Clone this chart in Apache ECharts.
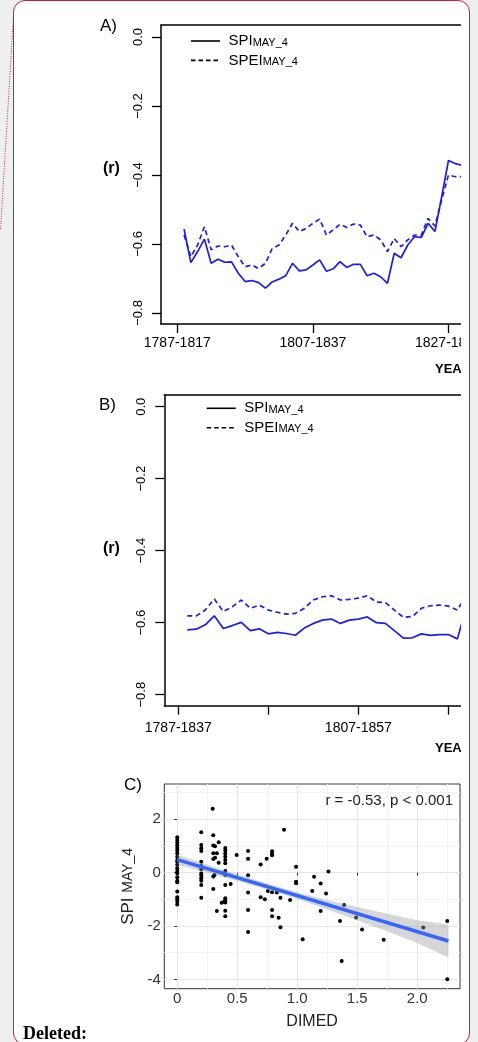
<!DOCTYPE html>
<html><head><meta charset="utf-8">
<script src="https://cdn.jsdelivr.net/npm/echarts@6/dist/echarts.min.js"></script>
<style>
html,body{margin:0;padding:0;background:#efefef;width:478px;height:1042px;overflow:hidden;}
#card{position:absolute;left:13px;top:0;width:457px;height:1045px;box-sizing:border-box;border:1.5px solid #c81d3f;border-radius:12px;background:#fff;}
#chart{position:absolute;left:0;top:0;width:461px;height:1042px;}
</style></head><body>
<div id="card"></div><div id="chart"></div>
<script>
// ---------- Panel A: 30-year moving windows (start year) ----------
const yearsA = [1788,1789,1790,1791,1792,1793,1794,1795,1796,1797,1798,1799,1800,1801,1802,1803,1804,1805,1806,1807,1808,1809,1810,1811,1812,1813,1814,1815,1816,1817,1818,1819,1820,1821,1822,1823,1824,1825,1826,1827,1828,1829];
const spiA = [-0.557,-0.654,-0.622,-0.586,-0.656,-0.644,-0.653,-0.652,-0.685,-0.709,-0.706,-0.712,-0.728,-0.710,-0.702,-0.692,-0.656,-0.678,-0.675,-0.661,-0.646,-0.679,-0.672,-0.651,-0.668,-0.659,-0.659,-0.692,-0.685,-0.695,-0.714,-0.627,-0.640,-0.603,-0.579,-0.581,-0.540,-0.564,-0.463,-0.358,-0.367,-0.372];
const speiA = [-0.574,-0.637,-0.603,-0.550,-0.617,-0.606,-0.608,-0.603,-0.637,-0.666,-0.661,-0.671,-0.656,-0.613,-0.603,-0.574,-0.540,-0.564,-0.555,-0.540,-0.528,-0.574,-0.559,-0.543,-0.552,-0.542,-0.545,-0.579,-0.574,-0.588,-0.622,-0.584,-0.608,-0.588,-0.574,-0.574,-0.526,-0.548,-0.472,-0.400,-0.405,-0.405];
const tickYearsA = [1787,1807,1827];
const windowA = 30;

// ---------- Panel B: 50-year moving windows ----------
const yearsB = [1788,1789,1790,1791,1792,1793,1794,1795,1796,1797,1798,1799,1800,1801,1802,1803,1804,1805,1806,1807,1808,1809,1810,1811,1812,1813,1814,1815,1816,1817,1818,1819];
const spiB = [-0.620,-0.618,-0.606,-0.581,-0.616,-0.608,-0.599,-0.622,-0.617,-0.631,-0.627,-0.630,-0.635,-0.615,-0.602,-0.593,-0.590,-0.602,-0.593,-0.590,-0.584,-0.600,-0.602,-0.622,-0.643,-0.642,-0.631,-0.635,-0.633,-0.633,-0.645,-0.555];
const speiB = [-0.581,-0.581,-0.565,-0.534,-0.569,-0.556,-0.537,-0.560,-0.551,-0.565,-0.571,-0.576,-0.574,-0.560,-0.537,-0.528,-0.525,-0.537,-0.535,-0.532,-0.525,-0.543,-0.544,-0.565,-0.585,-0.583,-0.560,-0.553,-0.551,-0.554,-0.565,-0.523];
const tickYearsB = [1787,1797,1807,1817];
const labelYearsB = [1787,1807];
const windowB = 50;
const rTicks = [0,-0.2,-0.4,-0.6,-0.8];
const legendNames = ['SPI','SPEI'];

// ---------- Panel C: scatter SPI_MAY_4 vs DIMED ----------
const dimed = [
 0,0,0,0,0,0,0,0,0,0,0,0,0,0,0,0,0,0,0,0,0,0,
 0.2,0.2,0.2,0.2,0.2,0.2,0.2,0.2,0.2,0.2,0.2,0.2,0.2,
 0.295,0.3,0.3,0.315,0.345,0.3,0.33,0.3,0.315,0.345,0.3,0.31,0.3,0.37,0.33,0.39,
 0.4,0.4,0.4,0.4,0.4,0.4,0.4,0.4,0.4,0.4,0.4,0.4,0.4,0.4,
 0.445,0.495,0.59,0.59,0.59,0.59,0.59,0.59,0.695,0.695,0.73,0.745,0.755,
 0.79,0.79,0.79,0.79,0.79,0.79,0.83,0.845,0.86,0.86,0.89,0.94,
 0.99,0.99,0.99,1.045,1.125,1.14,1.195,1.195,1.24,1.26,1.356,1.37,1.39,1.49,1.54,1.72,2.05,2.25,2.25];
const spi = [
 1.33,1.23,1.13,1.03,0.93,0.83,0.73,0.60,0.48,0.41,0.30,0.17,0.06,-0.03,-0.17,-0.30,-0.36,-0.71,-0.92,-1.00,-1.09,-1.19,
 1.52,1.04,0.92,0.81,0.41,0.25,0.13,-0.03,-0.11,-0.21,-0.30,-0.46,-0.94,
 2.40,1.40,1.02,0.99,1.14,0.73,0.73,0.51,0.56,0.37,-0.14,-0.09,-0.61,-1.13,-1.44,-1.09,
 0.93,0.83,0.72,0.60,0.48,0.35,0.06,-0.09,-0.46,-0.96,-1.04,-1.12,-1.43,-1.63,
 -0.42,0.66,0.81,0.52,-0.10,-0.74,-1.40,-2.22,0.31,-0.92,-1.00,0.52,-0.69,
 0.80,0.71,0.65,-0.73,-1.40,-1.63,-0.74,-1.69,-2.05,-0.94,1.61,-1.02,
 0.22,-0.34,-0.40,-2.50,-0.69,-0.15,-0.41,-1.44,-0.78,0.04,-1.81,-3.31,-1.21,-1.68,-2.13,-2.51,-2.06,-1.81,-4.00];
const fitX = [0, 2.26];
const fitY = [0.49, -2.56];
const bandX = [0,0.25,0.5,0.75,1.0,1.25,1.5,1.75,2.0,2.26];
const bandHigh = [0.68,0.30,-0.06,-0.41,-0.73,-1.02,-1.29,-1.54,-1.78,-1.94];
const bandLow = [0.30,0.00,-0.31,-0.63,-0.99,-1.38,-1.78,-2.20,-2.64,-3.18];
const xTicksC = [0,0.5,1,1.5,2];
const xMinorC = [0.25,0.75,1.25,1.75,2.25];
const yTicksC = [2,0,-2,-4];
const yMinorC = [3,1,-1,-3];

const FONT = '"Liberation Sans", Arial, Helvetica, sans-serif';
const BLUE = '#1d1de8';
const rFmt = v => Math.abs(v) < 1e-9 ? '0.0' : '\u2212' + Math.abs(v).toFixed(1);

const chart = echarts.init(document.getElementById('chart'));

function rAxisX(grid, min, max, ticks, labels, win, margin) {
  return {type:'value', gridIndex:grid, min, max, position:'bottom',
    axisLine:{show:true, onZero:false, lineStyle:{color:'#000', width:1.5}},
    axisTick:{show:true, customValues:ticks, length:9, lineStyle:{color:'#000', width:1.3}},
    axisLabel:{customValues:labels, formatter:v => v + '-' + (v + win), margin, color:'#000', fontSize:14, fontFamily:FONT},
    splitLine:{show:false}};
}
function rAxisTop(grid, min, max) {
  return {type:'value', gridIndex:grid, min, max, position:'top',
    axisLine:{show:true, onZero:false, lineStyle:{color:'#000', width:1.5}},
    axisTick:{show:false}, axisLabel:{show:false}, splitLine:{show:false}};
}
function rAxisY(grid, min, max) {
  return {type:'value', gridIndex:grid, min, max, position:'left',
    axisLine:{show:true, onZero:false, lineStyle:{color:'#000', width:1.5}},
    axisTick:{show:true, customValues:rTicks, length:9, lineStyle:{color:'#000', width:1.3}},
    axisLabel:{customValues:rTicks, rotate:90, formatter:rFmt, margin:16, color:'#000', fontSize:13, fontFamily:FONT},
    splitLine:{show:false}};
}
function lineSeries(name, xi, yi, xs, ys, dashed) {
  return {type:'line', name, xAxisIndex:xi, yAxisIndex:yi, symbol:'none', clip:true, animation:false,
    data: xs.map((x,i) => [x, ys[i]]),
    lineStyle:{color:BLUE, width:1.7, type: dashed ? [5,3.5] : 'solid'}, itemStyle:{color:BLUE}};
}
const txt = (text, x, y, font, extra) => ({type:'text', x, y, silent:true, z:50,
  style:Object.assign({text, font, fill:'#000', align:'left', verticalAlign:'middle'}, extra || {})});
const richLegend = {a:{fontSize:15, fontFamily:FONT, fill:'#000'}, b:{fontSize:11, fontFamily:FONT, fill:'#000', padding:[3,0,0,0]}};
function legendGraphics(x, y) {
  return legendNames.map((n, i) => [
    {type:'line', silent:true, z:50, shape:{x1:x, y1:y + i*19.4, x2:x + 29, y2:y + i*19.4},
      style:{stroke:'#000', lineWidth:1.6, lineDash: i ? [4.5,3] : null}},
    {type:'text', silent:true, z:50, x:x + 37.5, y:y + i*19.4,
      style:{text:'{a|' + n + '}{b|MAY_4}', rich:richLegend, verticalAlign:'middle', align:'left'}}
  ]).flat();
}

const option = {
  animation:false,
  grid:[
    {left:161, top:25, width:300, height:299, outerBoundsMode:'none', containLabel:false},
    {left:164.3, top:395, width:296.7, height:310.7, outerBoundsMode:'none', containLabel:false},
    {left:164.3, top:784, width:295.7, height:204.7, outerBoundsMode:'none', containLabel:false, show:true, borderColor:'#333', borderWidth:1, backgroundColor:'#fff'}
  ],
  xAxis:[
    rAxisX(0, 1784.6, 1828.85, tickYearsA, tickYearsA, windowA, 12),
    rAxisTop(0, 1784.6, 1828.85),
    rAxisX(1, 1785.45, 1818.4, tickYearsB, labelYearsB, windowB, 15),
    rAxisTop(1, 1785.45, 1818.4),
    {type:'value', gridIndex:2, min:-0.108, max:2.356, position:'bottom',
      axisLine:{show:false},
      axisTick:{show:true, customValues:xTicksC, length:3, lineStyle:{color:'#333', width:1}},
      axisLabel:{customValues:xTicksC, formatter:v => v === 0 ? '0' : v.toFixed(1), margin:3, color:'#333', fontSize:15, fontFamily:FONT},
      splitLine:{show:true, lineStyle:{color:'#e6e6e6', width:1}},
      name:'DIMED', nameLocation:'middle', nameGap:25, nameTextStyle:{color:'#222', fontSize:16, fontFamily:FONT}},
    {type:'value', gridIndex:2, min:-0.108, max:2.356, position:'bottom',
      axisLine:{show:false}, axisTick:{show:false, customValues:xMinorC}, axisLabel:{show:false, customValues:xMinorC},
      splitLine:{show:true, lineStyle:{color:'#f3f3f3', width:1}}}
  ],
  yAxis:[
    rAxisY(0, -0.832, 0.0348),
    rAxisY(1, -0.8306, 0.0325),
    {type:'value', gridIndex:2, min:-4.35, max:3.325, position:'left',
      axisLine:{show:false},
      axisTick:{show:true, customValues:yTicksC, length:3, lineStyle:{color:'#333', width:1}},
      axisLabel:{customValues:yTicksC, margin:3.5, color:'#333', fontSize:15, fontFamily:FONT},
      splitLine:{show:true, lineStyle:{color:'#e6e6e6', width:1}},
      name:'{a|SPI }{b|MAY_4}', nameLocation:'middle', nameRotate:90, nameGap:12,
      nameTextStyle:{color:'#222', fontFamily:FONT, rich:{a:{fontSize:17, fontFamily:FONT, lineHeight:18}, b:{fontSize:14, fontFamily:FONT, lineHeight:18}}}},
    {type:'value', gridIndex:2, min:-4.35, max:3.325, position:'left',
      axisLine:{show:false}, axisTick:{show:false, customValues:yMinorC}, axisLabel:{show:false, customValues:yMinorC},
      splitLine:{show:true, lineStyle:{color:'#f3f3f3', width:1}}}
  ],
  series:[
    lineSeries('SPI', 0, 0, yearsA, spiA, false),
    lineSeries('SPEI', 0, 0, yearsA, speiA, true),
    lineSeries('SPI', 2, 1, yearsB, spiB, false),
    lineSeries('SPEI', 2, 1, yearsB, speiB, true),
    {type:'scatter', xAxisIndex:4, yAxisIndex:2, symbolSize:4, itemStyle:{color:'#000', opacity:1}, z:2,
      data: dimed.map((x,i) => [x, spi[i]])},
    {type:'custom', xAxisIndex:4, yAxisIndex:2, z:3, silent:true,
      data:[[bandX[0], bandHigh[0]]],
      renderItem:(params, api) => {
        const up = bandX.map((x,i) => api.coord([x, bandHigh[i]]));
        const lo = bandX.map((x,i) => api.coord([x, bandLow[i]])).reverse();
        return {type:'polygon', shape:{points: up.concat(lo)}, style:{fill:'rgba(153,153,153,0.4)'}};
      }},
    {type:'line', xAxisIndex:4, yAxisIndex:2, z:4, symbol:'none',
      data: fitX.map((x,i) => [x, fitY[i]]), lineStyle:{color:'#3366ff', width:3.5}}
  ],
  graphic:[
    {type:'line', silent:true, shape:{x1:13.5, y1:16, x2:0.5, y2:230}, style:{stroke:'#c81d3f', lineWidth:1, lineDash:[1,1.5]}},
    ...legendGraphics(191, 41),
    ...legendGraphics(206.7, 408.3),
    txt('A)', 100, 26, '17px ' + FONT),
    txt('(r)', 103, 169, 'bold 16px ' + FONT),
    txt('YEAR', 435, 369, 'bold 13px ' + FONT),
    txt('B)', 99, 405, '17px ' + FONT),
    txt('(r)', 103, 549, 'bold 16px ' + FONT),
    txt('YEAR', 435, 748, 'bold 13px ' + FONT),
    txt('C)', 124, 785, '17px ' + FONT),
    txt('r = -0.53, p < 0.001', 453, 801, '15px ' + FONT, {align:'right', fill:'#222'}),
    txt('Deleted:', 23, 1034, 'bold 18px "Liberation Serif", "DejaVu Serif", serif')
  ]
};
chart.setOption(option);
</script>
</body></html>
